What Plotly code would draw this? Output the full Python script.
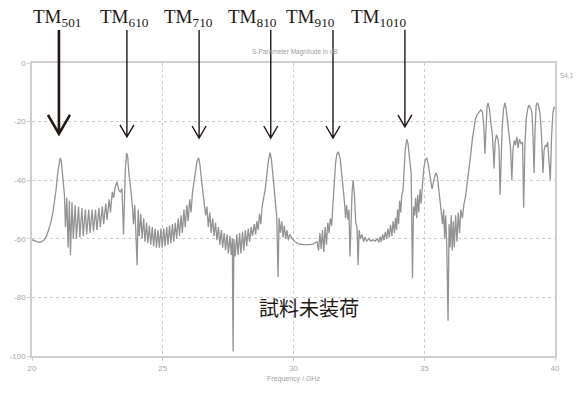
import plotly.graph_objects as go

# ---- measured S-parameter trace (GHz, dB) ----
freq_ghz = [
    20.00, 20.12, 20.25, 20.38, 20.48, 20.56, 20.64, 20.72, 20.80, 20.87, 20.93, 20.99, 21.04, 21.08, 21.12, 21.16, 21.20,
    21.24, 21.28, 21.33, 21.38, 21.43, 21.47, 21.53, 21.58, 21.65, 21.70, 21.78, 21.83, 21.91, 21.96, 22.04, 22.09,
    22.17, 22.22, 22.30, 22.35, 22.43, 22.48, 22.56, 22.61, 22.69, 22.74, 22.82, 22.87, 22.95, 23.00, 23.07, 23.12, 23.19,
    23.25, 23.32, 23.38, 23.44, 23.50, 23.53, 23.57, 23.62, 23.66, 23.70, 23.75, 23.79,
    23.84, 23.88, 23.93, 23.98, 24.02, 24.06, 24.10, 24.16, 24.21, 24.27, 24.32, 24.38, 24.43, 24.49, 24.54, 24.60,
    24.65, 24.71, 24.76, 24.82, 24.87, 24.93, 24.98, 25.04, 25.09, 25.15, 25.20, 25.26, 25.31, 25.37, 25.42, 25.48,
    25.53, 25.59, 25.64, 25.70, 25.75, 25.81, 25.86, 25.92, 25.97, 26.03, 26.08, 26.14, 26.19, 26.25, 26.31, 26.37,
    26.42, 26.47, 26.53, 26.58,
    26.64, 26.69, 26.74, 26.80, 26.85, 26.91, 26.96, 27.02, 27.07, 27.13, 27.18, 27.24, 27.29, 27.35, 27.40, 27.46,
    27.51, 27.57, 27.62, 27.66, 27.69, 27.72, 27.77, 27.83, 27.88, 27.94, 27.99, 28.05, 28.10, 28.16, 28.21, 28.27,
    28.32, 28.38, 28.43, 28.50, 28.55, 28.60, 28.65, 28.70, 28.75, 28.80, 28.86, 28.92, 28.97, 29.03, 29.10,
    29.15, 29.20, 29.25, 29.31, 29.36, 29.41, 29.45, 29.50, 29.55, 29.60, 29.65, 29.70, 29.75, 29.80, 29.86, 29.95,
    30.06, 30.20, 30.40, 30.60, 30.75, 30.90, 30.96, 31.01, 31.06, 31.11, 31.16, 31.21, 31.26, 31.31, 31.36, 31.41,
    31.46, 31.51, 31.56, 31.61, 31.66, 31.72,
    31.79, 31.86, 31.90, 31.95, 31.99, 32.03, 32.08, 32.12, 32.16, 32.20, 32.24, 32.28, 32.33, 32.38, 32.43, 32.47,
    32.51, 32.56, 32.62, 32.68, 32.74, 32.80, 32.88, 32.96, 33.04, 33.12, 33.20, 33.26, 33.31, 33.36, 33.41, 33.46,
    33.51, 33.56, 33.61, 33.66, 33.71, 33.76, 33.81, 33.86, 33.90, 33.94, 33.98, 34.02, 34.06, 34.10, 34.14, 34.19,
    34.23, 34.27, 34.33, 34.38, 34.43, 34.50, 34.55, 34.59, 34.63, 34.67, 34.71, 34.75, 34.79, 34.84, 34.88, 34.93,
    34.98, 35.04, 35.10, 35.16, 35.23, 35.30, 35.37, 35.44, 35.50, 35.56, 35.61, 35.66, 35.70, 35.74, 35.78, 35.82,
    35.86, 35.91, 35.95, 35.99, 36.03, 36.07, 36.11, 36.15, 36.20, 36.25, 36.30, 36.35, 36.40, 36.46, 36.52, 36.58,
    36.65, 36.72, 36.78, 36.84, 36.90, 36.96, 37.03, 37.10, 37.17, 37.23, 37.28, 37.32, 37.36, 37.40, 37.44, 37.49,
    37.55, 37.60, 37.64, 37.67, 37.71, 37.76, 37.82, 37.86, 37.90, 37.94, 37.98, 38.03, 38.08, 38.13, 38.19, 38.25,
    38.30, 38.35, 38.39, 38.44, 38.49, 38.54, 38.59, 38.64, 38.70, 38.76, 38.80, 38.85, 38.90, 38.96, 39.01, 39.07,
    39.12, 39.16, 39.20, 39.24, 39.28, 39.32, 39.37, 39.43, 39.48, 39.54, 39.58, 39.63, 39.68, 39.72, 39.77, 39.82,
    39.87, 39.92, 39.97, 40.00,
]
s_db = [
    -60.3, -60.8, -61.2, -61.0, -60.2, -59.0, -57.0, -54.5, -51.0, -47.0, -42.5, -37.0, -33.5, -32.4, -33.5, -37.5, -42.0,
    -45.0, -56.0, -46.0, -63.0, -47.0, -65.5, -47.5, -60.0, -48.5, -60.0, -49.0, -59.5, -49.5, -59.0, -50.0, -58.5,
    -50.0, -58.0, -50.0, -57.5, -50.0, -57.0, -49.5, -56.0, -49.0, -55.0, -48.0, -53.5, -46.5, -51.0, -44.0, -46.0, -42.0,
    -40.6, -43.5, -44.0, -42.8, -58.5, -44.0, -36.0, -30.7, -32.0, -37.0, -42.5, -44.3,
    -49.0, -55.0, -48.5, -60.0, -69.0, -50.0, -59.0, -51.5, -60.0, -53.0, -61.0, -54.5, -61.5, -55.5, -62.0, -56.0,
    -62.5, -56.5, -63.0, -57.0, -63.0, -56.5, -63.0, -56.5, -62.5, -56.0, -62.0, -55.5, -61.5, -55.0, -61.0, -54.5,
    -60.0, -53.0, -59.0, -52.0, -58.0, -50.0, -56.0, -48.5, -54.0, -46.5, -51.0, -44.0, -41.0, -37.0, -33.5, -32.4,
    -34.5, -39.0, -44.0, -46.7,
    -52.0, -49.0, -56.0, -51.0, -58.0, -53.0, -59.0, -54.5, -60.5, -56.0, -62.0, -57.0, -63.0, -58.0, -64.0, -58.5,
    -65.0, -59.0, -65.5, -60.0, -98.5, -60.0, -66.0, -58.5, -65.5, -58.0, -65.0, -57.5, -64.0, -57.0, -62.5, -56.5,
    -61.0, -56.0, -59.0, -55.0, -58.5, -54.0, -57.0, -51.5, -55.0, -49.0, -46.0, -43.0, -39.0, -34.0, -30.6,
    -32.5, -37.0, -42.0, -47.0, -52.5, -73.0, -53.0, -58.0, -54.0, -59.5, -55.5, -60.0, -57.0, -60.5, -58.5, -60.0,
    -61.0, -61.7, -62.0, -62.0, -61.8, -61.0, -64.0, -58.0, -63.5, -57.0, -64.5, -56.0, -62.0, -54.5, -58.0, -53.0,
    -55.5, -47.7, -40.0, -34.0, -31.0, -30.3,
    -33.0, -39.0, -43.0, -47.5, -53.0, -48.5, -53.5, -50.0, -66.0, -52.0, -44.0, -40.0, -45.0, -54.5, -56.0, -69.0,
    -57.0, -60.0, -58.5, -61.0, -59.5, -60.8, -60.0, -60.8, -60.3, -60.8, -60.0, -61.2, -59.3, -61.0, -58.5, -60.5,
    -57.6, -60.0, -56.5, -59.5, -55.2, -59.0, -54.0, -58.0, -52.8, -57.0, -50.0, -55.0, -47.0, -51.0, -45.0, -43.3,
    -37.0, -30.0, -26.0, -27.5, -32.0, -37.5, -73.5, -49.0, -52.0, -46.0, -53.0, -45.0, -51.0, -43.0, -48.0, -40.0,
    -36.0, -33.0, -32.4, -35.0, -39.5, -43.0, -40.0, -37.5, -38.5, -44.0, -46.7, -51.0, -55.0, -50.0, -60.0, -52.0,
    -62.0, -88.0, -55.0, -63.0, -52.0, -64.0, -54.0, -63.0, -52.0, -61.0, -51.0, -58.0, -50.0, -53.0, -48.0, -45.5,
    -41.0, -36.0, -31.0, -26.0, -21.5, -19.0, -17.5, -16.7, -16.0, -16.8, -22.0, -31.0, -20.0, -15.0, -13.6, -15.5,
    -20.5, -24.0, -30.0, -36.0, -27.0, -24.5, -26.0, -29.0, -45.0, -30.0, -22.0, -16.0, -13.6, -15.5, -20.4, -25.0,
    -29.0, -40.0, -30.0, -26.5, -28.0, -25.2, -29.0, -26.0, -27.5, -27.0, -49.4, -28.0, -19.0, -15.5, -14.3, -15.5,
    -17.0, -25.0, -37.5, -22.0, -14.5, -13.6, -14.5, -17.5, -24.0, -37.5, -30.0, -28.0, -28.5, -27.0, -33.0, -40.0,
    -25.0, -17.0, -15.0, -15.5,
]

x_ticks = [20, 25, 30, 35, 40]
y_ticks = [0, -20, -40, -60, -80, -100]

# ---- mode annotations ----
mode_labels = ["TM<sub>501</sub>", "TM<sub>610</sub>", "TM<sub>710</sub>",
               "TM<sub>810</sub>", "TM<sub>910</sub>", "TM<sub>1010</sub>"]
label_freq = [20.94, 23.52, 25.98, 28.43, 30.65, 33.25]
arrow_freq = [21.03, 23.63, 26.39, 29.13, 31.51, 34.26]
arrow_tip_db = [-24.2, -25.2, -25.6, -25.6, -25.6, -21.8]
arrow_lw = [2.6, 1.4, 1.4, 1.4, 1.4, 1.4]
arrow_head_hw = [11, 7, 7, 7, 7, 7]
arrow_head_h = [19, 12, 12, 12, 12, 12]

ink = "#231815"
gridc = "#cfcfcf"
tickc = "#a8a8a8"

fig = go.Figure()
fig.add_trace(go.Scatter(x=freq_ghz, y=s_db, mode="lines",
                         line=dict(color="#939393", width=1.3), showlegend=False,
                         hoverinfo="skip"))

arrow_top_paper = 1.113
for lab, lf in zip(mode_labels, label_freq):
    fig.add_annotation(x=lf, y=1.154, xref="x", yref="paper", text=lab, showarrow=False,
                       xanchor="center", yanchor="middle",
                       font=dict(family="Liberation Serif", size=19, color=ink))
for f, tdb, lw, hw, hh in zip(arrow_freq, arrow_tip_db, arrow_lw, arrow_head_hw, arrow_head_h):
    tip = 1 + tdb / 100.0
    length = (arrow_top_paper - tip) * 293
    fig.add_shape(type="path", xref="paper", yref="paper",
                  xsizemode="pixel", ysizemode="pixel",
                  xanchor=(f - 20) / 20.0, yanchor=tip,
                  path=f"M0,0 L0,{length:.1f} M{-hw},{hh} L0,0 L{hw},{hh}",
                  line=dict(color=ink, width=lw))

fig.add_annotation(x=30.6, y=-83.5, xref="x", yref="y", text="試料未装荷", showarrow=False,
                   font=dict(family="Noto Sans CJK JP", size=20, color=ink))
fig.add_annotation(x=0.503, y=1.058, xref="paper", yref="paper",
                   text="S-Parameter Magnitude in dB", showarrow=False,
                   font=dict(family="Liberation Sans", size=6.5, color="#a0a0a0"))
fig.add_annotation(x=0.5, y=-0.099, xref="paper", yref="paper",
                   text="Frequency / GHz", showarrow=False,
                   font=dict(family="Liberation Sans", size=7, color="#a0a0a0"))
fig.add_annotation(x=1.005, y=0.976, xref="paper", yref="paper", xanchor="left",
                   text="S4,1", showarrow=False,
                   font=dict(family="Liberation Sans", size=6.5, color="#a8a8a8"))

fig.update_layout(
    width=579, height=394,
    margin=dict(l=32, r=24, t=63, b=38, autoexpand=False),
    paper_bgcolor="white", plot_bgcolor="white",
    xaxis=dict(range=[20, 40], tickvals=x_ticks, ticktext=[str(v) for v in x_ticks],
               showgrid=True, gridcolor=gridc, griddash="dot", gridwidth=1,
               showline=True, mirror=True, linecolor=gridc, linewidth=2.2,
               ticks="outside", ticklen=3, tickcolor=gridc, automargin=False,
               tickfont=dict(family="Liberation Sans", size=8, color=tickc), zeroline=False),
    yaxis=dict(range=[-100, 0], tickvals=y_ticks, ticktext=[str(v) for v in y_ticks],
               showgrid=True, gridcolor=gridc, griddash="dot", gridwidth=1,
               showline=True, mirror=True, linecolor=gridc, linewidth=1.5,
               ticks="outside", ticklen=3, tickcolor=gridc, automargin=False,
               tickfont=dict(family="Liberation Sans", size=8, color=tickc), zeroline=False),
)

fig.write_html("out.html", config={"displayModeBar": False},
               post_script="document.body.style.margin='0';document.body.style.overflow='hidden';")
